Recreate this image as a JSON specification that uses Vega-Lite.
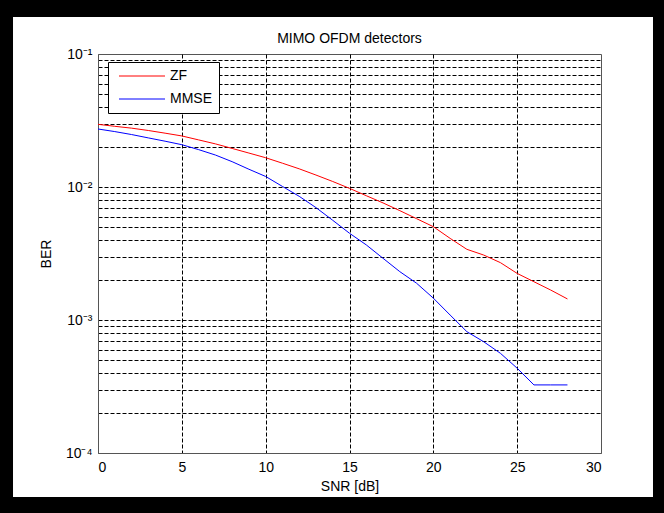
{
  "$schema": "https://vega.github.io/schema/vega-lite/v6.json",
  "width": 503,
  "height": 399,
  "autosize": {"type": "none"},
  "padding": {"left": 98, "top": 54, "right": 63, "bottom": 60},
  "background": "white",
  "title": {"text": "MIMO OFDM detectors", "frame": "group", "anchor": "middle", "offset": -63, "fontSize": 14, "fontWeight": "normal", "font": "Liberation Sans", "color": "black"},
  "config": {
    "view": {"stroke": "#555", "strokeWidth": 1, "fill": "white"},
    "font": "Liberation Sans"
  },
  "layer": [
    {
      "data": {"values": [{"part": "frame"}]},
      "mark": {"type": "rect", "fill": "transparent", "stroke": "black", "strokeWidth": 34, "clip": false},
      "encoding": {
        "x": {"datum": -6.083, "type": "quantitative"},
        "x2": {"datum": 34.115},
        "y": {"datum": 0.2547, "type": "quantitative"},
        "y2": {"datum": 0.00003477}
      }
    },
    {
      "data": {"values": [
        {"snr": 0, "ber": 0.0296, "det": "ZF"},
        {"snr": 1, "ber": 0.0286, "det": "ZF"},
        {"snr": 2, "ber": 0.0277, "det": "ZF"},
        {"snr": 3, "ber": 0.0266, "det": "ZF"},
        {"snr": 4, "ber": 0.0254, "det": "ZF"},
        {"snr": 5, "ber": 0.0242, "det": "ZF"},
        {"snr": 6, "ber": 0.0226, "det": "ZF"},
        {"snr": 7, "ber": 0.0211, "det": "ZF"},
        {"snr": 8, "ber": 0.0195, "det": "ZF"},
        {"snr": 9, "ber": 0.0180, "det": "ZF"},
        {"snr": 10, "ber": 0.0166, "det": "ZF"},
        {"snr": 11, "ber": 0.0151, "det": "ZF"},
        {"snr": 12, "ber": 0.0137, "det": "ZF"},
        {"snr": 13, "ber": 0.0123, "det": "ZF"},
        {"snr": 14, "ber": 0.0110, "det": "ZF"},
        {"snr": 15, "ber": 0.00977, "det": "ZF"},
        {"snr": 16, "ber": 0.0086, "det": "ZF"},
        {"snr": 17, "ber": 0.00759, "det": "ZF"},
        {"snr": 18, "ber": 0.00664, "det": "ZF"},
        {"snr": 19, "ber": 0.00578, "det": "ZF"},
        {"snr": 20, "ber": 0.00503, "det": "ZF"},
        {"snr": 21, "ber": 0.00411, "det": "ZF"},
        {"snr": 22, "ber": 0.0034, "det": "ZF"},
        {"snr": 23, "ber": 0.00308, "det": "ZF"},
        {"snr": 24, "ber": 0.0027, "det": "ZF"},
        {"snr": 25, "ber": 0.00224, "det": "ZF"},
        {"snr": 26, "ber": 0.00194, "det": "ZF"},
        {"snr": 27, "ber": 0.00168, "det": "ZF"},
        {"snr": 28, "ber": 0.00144, "det": "ZF"},
        {"snr": 0, "ber": 0.0273, "det": "MMSE"},
        {"snr": 1, "ber": 0.0261, "det": "MMSE"},
        {"snr": 2, "ber": 0.0248, "det": "MMSE"},
        {"snr": 3, "ber": 0.0234, "det": "MMSE"},
        {"snr": 4, "ber": 0.0221, "det": "MMSE"},
        {"snr": 5, "ber": 0.0208, "det": "MMSE"},
        {"snr": 6, "ber": 0.0191, "det": "MMSE"},
        {"snr": 7, "ber": 0.0174, "det": "MMSE"},
        {"snr": 8, "ber": 0.0155, "det": "MMSE"},
        {"snr": 9, "ber": 0.0136, "det": "MMSE"},
        {"snr": 10, "ber": 0.0120, "det": "MMSE"},
        {"snr": 11, "ber": 0.0101, "det": "MMSE"},
        {"snr": 12, "ber": 0.00851, "det": "MMSE"},
        {"snr": 13, "ber": 0.0070, "det": "MMSE"},
        {"snr": 14, "ber": 0.00562, "det": "MMSE"},
        {"snr": 15, "ber": 0.00449, "det": "MMSE"},
        {"snr": 16, "ber": 0.00367, "det": "MMSE"},
        {"snr": 17, "ber": 0.00291, "det": "MMSE"},
        {"snr": 18, "ber": 0.00231, "det": "MMSE"},
        {"snr": 19, "ber": 0.00189, "det": "MMSE"},
        {"snr": 20, "ber": 0.00146, "det": "MMSE"},
        {"snr": 21, "ber": 0.00109, "det": "MMSE"},
        {"snr": 22, "ber": 0.000817, "det": "MMSE"},
        {"snr": 23, "ber": 0.000687, "det": "MMSE"},
        {"snr": 24, "ber": 0.000562, "det": "MMSE"},
        {"snr": 25, "ber": 0.000434, "det": "MMSE"},
        {"snr": 26, "ber": 0.000325, "det": "MMSE"},
        {"snr": 27, "ber": 0.000325, "det": "MMSE"},
        {"snr": 28, "ber": 0.000325, "det": "MMSE"}
      ]},
      "mark": {"type": "line", "strokeWidth": 1},
      "encoding": {
        "x": {
          "field": "snr", "type": "quantitative",
          "scale": {"domain": [0, 30], "nice": false, "zero": false},
          "axis": {
            "title": "SNR [dB]", "values": [0, 5, 10, 15, 20, 25, 30],
            "grid": true, "gridDash": [4, 2], "gridOpacity": 1,
            "gridColor": {"condition": {"test": "datum.value == 0 || datum.value == 30", "value": "transparent"}, "value": "black"},
            "ticks": false, "domainColor": "#555",
            "labelFontSize": 14, "labelColor": "black", "labelPadding": 7,
            "titleFontSize": 14, "titleFontWeight": "normal", "titleColor": "black", "titlePadding": 5
          }
        },
        "y": {
          "field": "ber", "type": "quantitative",
          "scale": {"type": "log", "domain": [0.0001, 0.1], "nice": false},
          "axis": {
            "title": "BER",
            "values": [0.0001, 0.0002, 0.0003, 0.0004, 0.0005, 0.0006, 0.0007, 0.0008, 0.0009, 0.001, 0.002, 0.003, 0.004, 0.005, 0.006, 0.007, 0.008, 0.009, 0.01, 0.02, 0.03, 0.04, 0.05, 0.06, 0.07, 0.08, 0.09, 0.1],
            "labelExpr": "datum.value == 0.1 ? '10⁻¹' : datum.value == 0.01 ? '10⁻²' : datum.value == 0.001 ? '10⁻³' : datum.value == 0.0001 ? '10⁻⁴' : ''",
            "grid": true, "gridDash": [4, 2], "gridOpacity": 1,
            "gridColor": {"condition": {"test": "datum.value == 0.1 || datum.value == 0.0001", "value": "transparent"}, "value": "black"},
            "ticks": false, "domainColor": "#555",
            "labelFontSize": 14, "labelColor": "black", "labelPadding": 6,
            "titleFontSize": 14, "titleFontWeight": "normal", "titleColor": "black", "titlePadding": 12
          }
        },
        "color": {
          "field": "det", "type": "nominal",
          "scale": {"domain": ["ZF", "MMSE"], "range": ["#ff0000", "#0000ff"]},
          "legend": {
            "title": null, "orient": "none", "legendX": 10, "legendY": 8,
            "fillColor": "white", "strokeColor": "black", "padding": 7,
            "symbolType": "M-4.6,0H4.6", "symbolSize": 100, "symbolStrokeWidth": 1, "symbolOffset": 20,
            "labelFontSize": 14, "labelColor": "black", "labelOffset": 21, "rowPadding": 9
          }
        }
      }
    }
  ]
}
